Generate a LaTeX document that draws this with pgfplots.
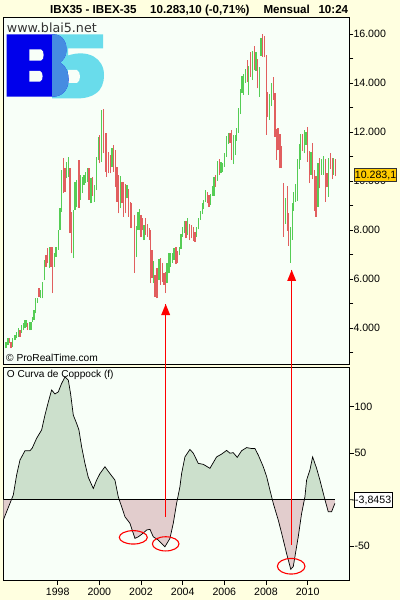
\documentclass[border=0pt]{standalone}
\usepackage{pgfplots}
\usepackage{pgfplotstable}
\pgfplotsset{compat=1.18}
\usepackage{fontspec}
\setmainfont{Liberation Sans}
\newfontfamily\dejavu{DejaVu Sans}
\definecolor{bgout}{RGB}{255,255,224}
\definecolor{plotbg}{RGB}{248,255,248}
\definecolor{upc}{RGB}{85,205,85}
\definecolor{dnc}{RGB}{225,95,95}
\definecolor{posf}{RGB}{204,224,204}
\definecolor{negf}{RGB}{226,205,205}
\definecolor{logoblue}{RGB}{0,0,235}
\definecolor{logocyan}{RGB}{105,220,235}
\definecolor{logomid}{RGB}{70,140,225}
\definecolor{boxgold}{RGB}{255,204,0}
\newcommand\tl{\fontsize{10.6}{12}\selectfont}

\pgfplotstableread{
t hi lo
1995.518 3450 3180
1995.614 3590 3320
1995.840 3600 3250
1995.950 3730 3520
1996.032 3860 3590
1996.109 4000 3660
1996.272 4135 3800
1996.349 4200 3930
1996.430 4340 4000
1996.512 4340 4065
1996.637 4270 3930
1996.718 4270 3930
1996.800 4470 4270
1996.862 4750 4340
1996.944 5220 4610
1997.021 5240 5030
1997.184 5560 5240
1997.261 5900 5220
1997.357 6790 5970
1997.597 7330 6450
1997.837 7070 6510
1997.918 7330 6920
1998.029 8010 7200
1998.110 8900 8010
1998.192 10460 8760
1998.432 10800 10120
1998.509 11000 10190
1998.749 8830 6860
1998.831 9980 8830
1998.912 10050 8960
1999.104 10250 9240
1999.181 10190 9510
1999.263 10250 9850
1999.344 10390 9920
1999.421 10530 9980
1999.599 10120 9100
1999.757 9850 9170
1999.853 11000 9640
1999.949 11820 10870
2000.093 12910 10800
2000.607 11340 10590
2001.005 10230 8900
2001.327 9850 9300
2001.774 8170 6920
2001.855 8750 8010
2001.917 8870 8010
2002.143 8220 7600
2002.590 6750 5840
2002.863 6820 5970
2003.247 6680 5840
2003.343 7060 6240
2003.425 7090 6510
2003.502 7090 6680
2003.583 7260 6790
2003.838 7300 6990
2003.919 7840 7250
2004.001 8150 7740
2004.078 8380 7880
2004.241 8490 7810
2004.673 8120 7740
2004.750 8490 8040
2004.846 8800 8420
2004.942 9120 8660
2005.009 9240 8860
2005.086 9640 9170
2005.326 9480 9030
2005.422 9810 9400
2005.504 10190 9400
2005.662 10840 10020
2005.840 10800 10320
2005.921 10760 10390
2005.998 11140 10590
2006.094 11830 11000
2006.190 11960 11520
2006.430 11890 10700
2006.526 11890 11070
2006.594 12160 11650
2006.690 12980 11980
2006.766 13750 12740
2006.848 14290 13610
2006.930 14380 13520
2007.026 14570 14020
2007.169 14700 13520
2007.342 15310 14130
2007.520 15260 14510
2007.679 14650 13450
2007.760 15830 15110
2008.159 13560 12500
2008.254 14020 13060
2008.927 9300 8260
2009.167 8150 6680
2009.263 9120 7600
2009.330 9570 8800
2009.407 9890 9170
2009.503 10900 9210
2009.599 11520 10490
2009.666 11930 10870
2009.839 12090 11140
2009.920 12020 11480
2010.161 11180 10260
2010.496 10760 8960
2010.655 10900 10260
2010.751 11030 10260
2010.991 10940 9370
2011.250 10940 10260
}\up

\pgfplotstableread{
t hi lo
1995.676 3600 3400
1995.758 3450 3180
1996.190 3930 3660
1996.560 4200 3930
1997.102 5630 5290
1997.438 6990 6510
1997.501 7260 6650
1997.678 7330 6510
1997.760 7330 5430
1998.269 10940 9510
1998.351 10530 9570
1998.591 10530 7880
1998.672 8760 7060
1999.023 10870 8900
1999.503 10530 9240
1999.661 10190 9400
2000.016 11890 10730
2000.189 12950 11140
2000.285 11960 10390
2000.353 11980 10190
2000.429 11200 10320
2000.525 11070 10320
2000.669 11480 10390
2000.765 11280 9780
2000.847 10590 9170
2000.909 10250 8690
2001.087 9980 9100
2001.169 9980 8550
2001.245 9880 8690
2001.409 9670 8550
2001.485 9170 8080
2001.553 9100 8080
2001.678 8620 6270
2001.999 8620 7740
2002.081 8490 8010
2002.225 8490 7810
2002.321 8240 7740
2002.393 8100 7600
2002.465 8010 5840
2002.527 7200 6050
2002.671 6180 5290
2002.767 6450 5220
2002.945 6860 5770
2003.022 6680 5900
2003.103 6240 5770
2003.166 6310 5430
2003.679 7300 6620
2003.742 7170 6680
2004.159 8380 7670
2004.318 8260 7600
2004.414 8220 7670
2004.510 8120 7570
2004.592 7940 7530
2005.182 9570 9100
2005.264 9440 8940
2005.566 10260 9780
2005.758 10900 10260
2006.272 11960 11560
2006.353 12090 10870
2007.103 14950 14060
2007.247 15290 14270
2007.439 15520 14540
2007.602 14980 13790
2007.842 16010 15080
2007.919 15930 15050
2008.015 15150 11890
2008.082 13660 12640
2008.351 14270 13320
2008.432 13610 11820
2008.495 12120 10870
2008.576 12160 11260
2008.672 11930 10530
2008.754 11440 10530
2008.831 9920 7740
2009.023 9820 7970
2009.095 8690 7360
2009.743 11930 11250
2009.983 12200 10800
2010.079 11250 9920
2010.223 11550 10080
2010.319 10460 8800
2010.400 10210 8550
2010.559 10940 9710
2010.847 10900 9170
2010.929 10320 9750
2011.087 11140 10500
2011.183 10940 10080
2011.327 10900 10210
}\down

\pgfplotstableread{
t v
1995.39 -22
1995.87 5
1996.03 26.5
1996.19 42.6
1996.43 52.6
1996.67 52.6
1996.78 55.5
1996.99 66
1997.23 75
1997.39 91
1997.55 105
1997.71 118
1997.87 113.7
1998.03 116
1998.19 125
1998.35 132
1998.51 128.7
1998.62 114
1998.75 91
1998.91 82
1999.02 75
1999.15 57
1999.31 39
1999.47 24
1999.71 12
1999.87 21
2000.03 28
2000.27 35.4
2000.51 28
2000.75 21
2000.91 3
2001.07 -7.6
2001.23 -18.4
2001.47 -25.5
2001.71 -41.7
2001.87 -40
2002.11 -36
2002.27 -32.7
2002.43 -32
2002.59 -40
2002.83 -43.5
2003.15 -50.7
2003.39 -41.7
2003.55 -25.5
2003.71 -4
2003.87 14
2003.95 28
2004.11 46
2004.35 54
2004.51 50
2004.75 39
2004.99 38
2005.31 33.7
2005.63 46
2005.87 49
2006.11 53
2006.27 50
2006.43 50.5
2006.62 45.5
2006.83 52.6
2007.07 56
2007.31 55
2007.47 55
2007.63 48
2007.87 35.4
2008.03 25
2008.19 10.3
2008.35 -4
2008.59 -22
2008.75 -36
2008.99 -58
2009.19 -75
2009.31 -72
2009.55 -40
2009.71 -15
2009.87 3
2009.95 21
2010.11 32
2010.24 46
2010.43 33.7
2010.59 21
2010.83 0
2010.99 -13
2011.15 -13
2011.31 -4
}\cop

\pgfplotsset{panel/.style={
  scale only axis, width=346pt,
  xmin=1995.39, xmax=2012.0,
  scaled y ticks=false, scaled x ticks=false,
  axis background/.style={fill=plotbg},
  axis line style={black, line width=0.9pt},
  tick style={black, line width=0.8pt},
  tick align=outside, major tick length=4pt, minor tick length=4pt,
  ytick pos=right, yticklabel pos=right,
  yticklabel style={font=\tl, anchor=west, inner sep=0pt},
}}

\begin{document}
\begin{tikzpicture}
\fill[bgout] (0pt,0pt) rectangle (400pt,600pt);
\useasboundingbox (0pt,0pt) rectangle (400pt,600pt);

% upper panel
\begin{axis}[panel, at={(3.3pt,235.5pt)}, anchor=south west, height=347.2pt,
  ymin=2523, ymax=16689, xtick=\empty,
  ytick={4000,6000,8000,10000,12000,14000,16000},
  yticklabels={4.000,6.000,8.000,10.000,12.000,14.000,16.000},
  minor ytick={3000,5000,7000,9000,11000,13000,15000}]
\addplot[draw=none, forget plot, error bars/.cd, y dir=plus, y explicit, error mark=none,
  error bar style={draw=upc, line width=1.1pt}]
  table[x=t, y=lo, y error expr=\thisrow{hi}-\thisrow{lo}] {\up};
\addplot[draw=none, forget plot, error bars/.cd, y dir=plus, y explicit, error mark=none,
  error bar style={draw=dnc, line width=1.1pt}]
  table[x=t, y=lo, y error expr=\thisrow{hi}-\thisrow{lo}] {\down};
\coordinate (a1top) at (axis cs:2003.185,4990);
\coordinate (a2top) at (axis cs:2009.234,6380);
\end{axis}

% lower panel
\begin{axis}[panel, at={(3.3pt,20pt)}, anchor=south west, height=212.5pt,
  ymin=-86.5, ymax=142.2,
  xtick pos=left, xtick={1998,2000,2002,2004,2006,2008,2010},
  xticklabels={1998,2000,2002,2004,2006,2008,2010},
  xticklabel style={font=\tl},
  major tick length=5pt,
  ytick={-50,50,100}, yticklabels={-50,50,100}]
\begin{scope}
\clip (axis cs:1995,0) rectangle (axis cs:2013,150);
\addplot[fill=posf, draw=none] table[x=t,y=v] {\cop} -- (axis cs:2011.31,0) -- (axis cs:1995.39,0) -- cycle;
\end{scope}
\begin{scope}
\clip (axis cs:1995,-100) rectangle (axis cs:2013,0);
\addplot[fill=negf, draw=none] table[x=t,y=v] {\cop} -- (axis cs:2011.31,0) -- (axis cs:1995.39,0) -- cycle;
\end{scope}
\addplot[black, line width=0.8pt] coordinates {(1995.39,0) (2011.31,0)};
\addplot[black, line width=0.7pt] table[x=t,y=v] {\cop};
\coordinate (a1bot) at (axis cs:2003.185,-18.7);
\coordinate (a2bot) at (axis cs:2009.234,-48.9);
\draw[red, line width=1.1pt] (axis cs:2001.63,-40.6) ellipse [x radius=14pt, y radius=6.7pt];
\draw[red, line width=1.1pt] (axis cs:2003.185,-47.6) ellipse [x radius=13.3pt, y radius=7.1pt];
\draw[red, line width=1.1pt] (axis cs:2009.21,-71.7) ellipse [x radius=13.8pt, y radius=7.8pt];
\coordinate (zr) at (axis cs:2012.0,0);
\end{axis}

% arrows
\draw[red, line width=1pt] (a1top) -- (a1bot);
\draw[red, line width=1pt] (a2top) -- (a2bot);
\fill[red] (a1top) -- ++(-4.5pt,-11pt) -- ++(9pt,0pt) -- cycle;
\fill[red] (a2top) -- ++(-4.5pt,-11pt) -- ++(9pt,0pt) -- cycle;

% value boxes
\node[anchor=west, fill=boxgold, draw=black!80, line width=0.6pt, inner xsep=0.6pt, inner ysep=0pt,
  minimum height=13.4pt, font=\fontsize{10.6}{12}\selectfont] at (354pt,425pt) {10.283,1};
\draw[black, line width=0.8pt] (zr) -- (354pt,100pt);
\node[anchor=west, fill=white, draw=black, line width=0.8pt, inner xsep=0.8pt, inner ysep=0pt,
  minimum height=14.6pt, font=\fontsize{10.6}{12}\selectfont] at (354pt,100pt) {-3,8453};

% title
\begin{scope}[every node/.style={anchor=base west, inner sep=0pt, font=\fontsize{11.6}{13}\selectfont\bfseries}]
\node at (50pt,586.5pt) {IBX35 - IBEX-35};
\node at (150pt,586.5pt) {10.283,10 (-0,71\%)};
\node at (263.3pt,586.5pt) {Mensual};
\node at (318.3pt,586.5pt) {10:24};
\end{scope}

% logo (pixel coordinates, y downwards)
\begin{scope}[x=1pt, y=-1pt, yshift=600pt]
\def\fivepath{(52,34.3) -- (103,34.3) -- (103,48.3) -- (68,48.3) -- (68,55.5)
  .. controls (88,49) and (104,58) .. (104,75) .. controls (104,92) and (93,98.5) .. (76,98.5)
  -- (52,98.5) -- cycle}
\def\bpath{(6.7,34.3) -- (53,34.3) .. controls (63,34.3) and (67,43) .. (66.5,51)
  .. controls (66,57) and (63,60.5) .. (60,62.5) .. controls (66,65.5) and (69,73) .. (68.5,81)
  .. controls (68,91) and (61,96.7) .. (53,96.7) -- (6.7,96.7) -- cycle}
\fill[logocyan] \fivepath;
\fill[plotbg] (68,70) -- (77,70) .. controls (81,72) and (81,81) .. (77,83) -- (68,83) -- cycle;
\fill[logoblue] \bpath;
\fill[plotbg] (29.3,49.3) -- (41,49.3) .. controls (44.5,50) and (44.5,60) .. (41,60.7) -- (29.3,60.7) -- cycle;
\fill[plotbg] (29.3,71) -- (40,71) .. controls (43.5,72) and (43.5,80.7) .. (40,81.7) -- (29.3,81.7) -- cycle;
\begin{scope}
\clip \fivepath;
\fill[logomid] \bpath;
\end{scope}
\end{scope}
\node[anchor=base west, inner sep=0pt, text=black!80, font=\dejavu\fontsize{12.7}{14}\selectfont] at (6.7pt,567.7pt) {www.blai5.net};

\node[anchor=base west, inner sep=0pt, font=\fontsize{10.2}{12}\selectfont] at (6pt,238pt) {\textcopyright{} ProRealTime.com};
\node[anchor=base west, inner sep=0pt, font=\fontsize{10.1}{12}\selectfont] at (6.7pt,222.7pt) {O Curva de Coppock (f)};
\end{tikzpicture}
\end{document}
